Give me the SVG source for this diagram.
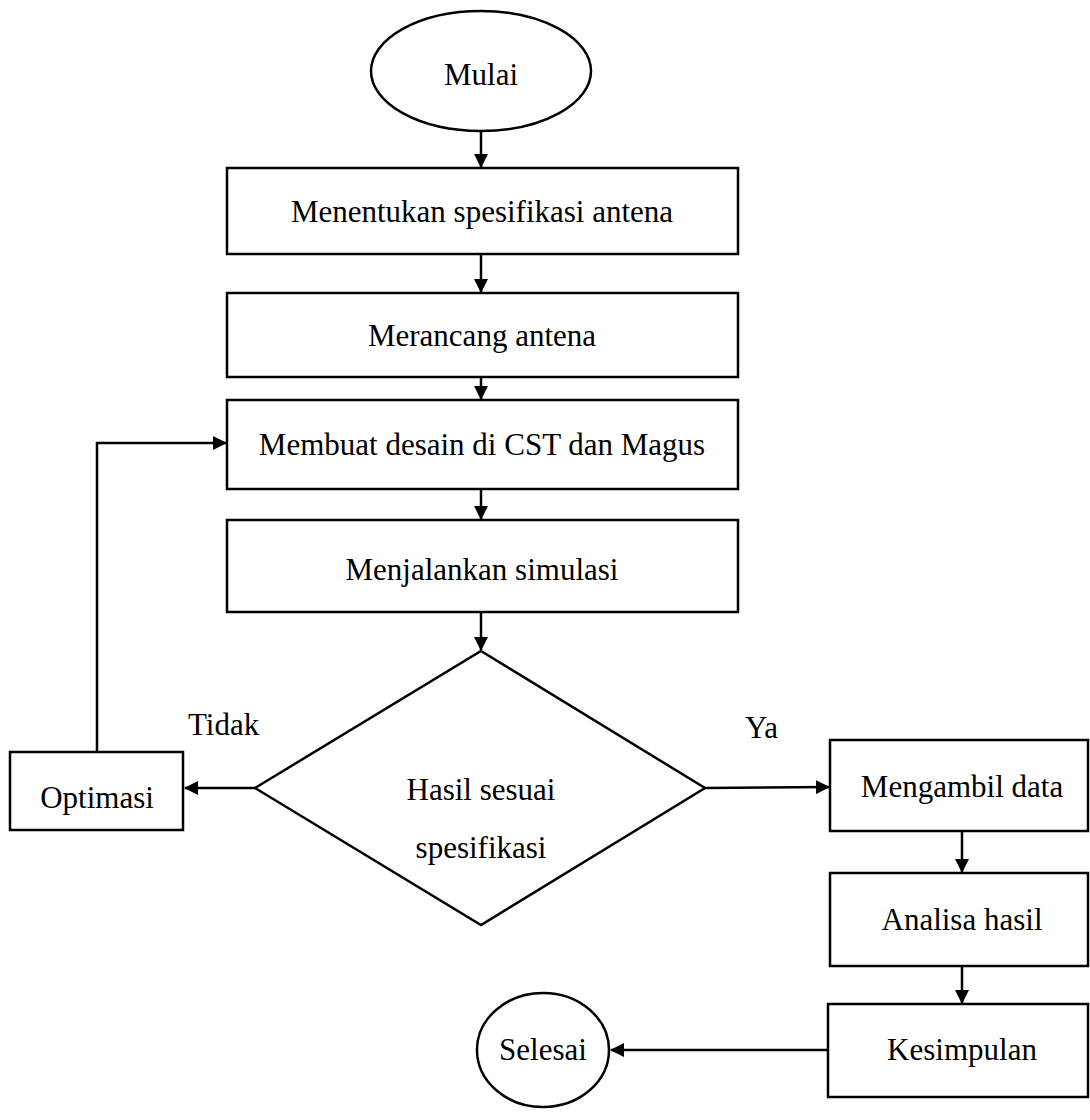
<svg xmlns="http://www.w3.org/2000/svg" width="1090" height="1120" viewBox="0 0 1090 1120">
<style>
.s{fill:#fff;stroke:#000;stroke-width:2.5}
.t{font-family:"Liberation Serif","Times New Roman",serif;font-size:31px;fill:#000;text-anchor:middle}
.l{font-family:"Liberation Serif","Times New Roman",serif;font-size:31px;fill:#000}
.c{fill:none;stroke:#000;stroke-width:2.5}
</style>
<defs>
<marker id="ah" markerWidth="14" markerHeight="14" refX="13" refY="7" orient="auto" markerUnits="userSpaceOnUse">
<path d="M0,0 L14,7 L0,14 Z" fill="#000"/>
</marker>
</defs>
<rect width="1090" height="1120" fill="#fff"/>
<g id="connectors">
<line class="c" x1="481" y1="131" x2="481" y2="167" marker-end="url(#ah)"/>
<line class="c" x1="481" y1="254" x2="481" y2="292" marker-end="url(#ah)"/>
<line class="c" x1="481" y1="377" x2="481" y2="399" marker-end="url(#ah)"/>
<line class="c" x1="481" y1="489" x2="481" y2="519" marker-end="url(#ah)"/>
<line class="c" x1="481" y1="612" x2="481" y2="650" marker-end="url(#ah)"/>
<line class="c" x1="255" y1="788" x2="185" y2="788" marker-end="url(#ah)"/>
<polyline class="c" points="97,752 97,443 226,443" marker-end="url(#ah)"/>
<line class="c" x1="705" y1="788" x2="829" y2="787" marker-end="url(#ah)"/>
<line class="c" x1="962" y1="832" x2="962" y2="872" marker-end="url(#ah)"/>
<line class="c" x1="962" y1="967" x2="962" y2="1003" marker-end="url(#ah)"/>
<line class="c" x1="828" y1="1050" x2="611" y2="1050" marker-end="url(#ah)"/>
<text class="l" x="188" y="735">Tidak</text>
<text class="l" x="745" y="738">Ya</text>
</g>
<g id="mulai"><ellipse class="s" cx="481" cy="71" rx="110" ry="60"/><text class="t" x="481" y="85">Mulai</text></g>
<g id="spesifikasi"><rect class="s" x="227" y="168" width="511" height="86"/><text class="t" x="482" y="222">Menentukan spesifikasi antena</text></g>
<g id="merancang"><rect class="s" x="227" y="293" width="511" height="84"/><text class="t" x="482" y="346">Merancang antena</text></g>
<g id="desain"><rect class="s" x="227" y="400" width="511" height="89"/><text class="t" x="482" y="455">Membuat desain di CST dan Magus</text></g>
<g id="simulasi"><rect class="s" x="227" y="520" width="511" height="92"/><text class="t" x="482" y="580">Menjalankan simulasi</text></g>
<g id="keputusan"><polygon class="s" points="481,651 705,788 481,925 255,788"/><text class="t" x="481" y="800">Hasil sesuai</text><text class="t" x="481" y="858">spesifikasi</text></g>
<g id="optimasi"><rect class="s" x="10" y="752" width="173" height="78"/><text class="t" x="97" y="808">Optimasi</text></g>
<g id="mengambil"><rect class="s" x="830" y="740" width="258" height="91"/><text class="t" x="962" y="797">Mengambil data</text></g>
<g id="analisa"><rect class="s" x="830" y="873" width="258" height="93"/><text class="t" x="962" y="930">Analisa hasil</text></g>
<g id="kesimpulan"><rect class="s" x="828" y="1004" width="260" height="93"/><text class="t" x="962" y="1060">Kesimpulan</text></g>
<g id="selesai"><ellipse class="s" cx="543" cy="1050" rx="66" ry="57"/><text class="t" x="543" y="1060">Selesai</text></g>
</svg>
